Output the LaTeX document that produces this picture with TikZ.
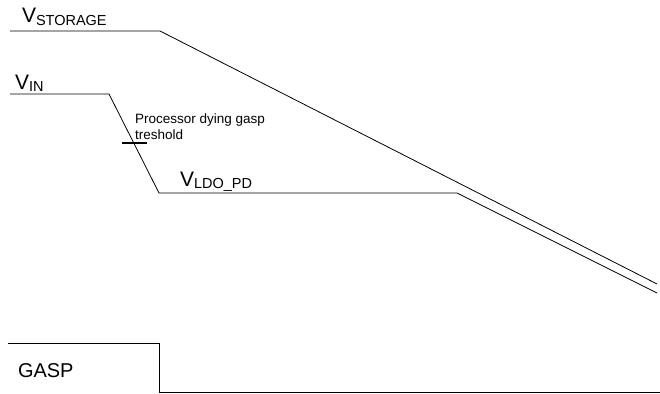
\documentclass[tikz,border=0pt]{standalone}
\usepackage{fontspec}
\setmainfont{Liberation Sans}
\newcommand{\vsub}[1]{{\fontsize{21}{21}\selectfont V}\raisebox{-2.5pt}{\fontsize{14.5}{14.5}\selectfont #1}}
\begin{document}
\begin{tikzpicture}[x=1pt,y=-1pt,
  wave/.style={line width=0.8pt,black},
  lbl/.style={anchor=base west,inner sep=0pt,outer sep=0pt},
  small/.style={lbl,font=\fontsize{13.5}{16}\selectfont,align=left}]
\useasboundingbox (0,0) rectangle (660,393);
% coordinates
\coordinate (s0) at (10,31);
\coordinate (s1) at (160,31);
\coordinate (s2) at (657,284);
\coordinate (i0) at (10,94);
\coordinate (i1) at (109,94);
\coordinate (i2) at (159,193);
\coordinate (i3) at (457,193);
\coordinate (i4) at (657,293);
\coordinate (t0) at (122,143);
\coordinate (t1) at (147,143);
\coordinate (g0) at (8,343);
\coordinate (g1) at (159,343);
\coordinate (g2) at (159,392);
\coordinate (g3) at (660,392);
% waves
\draw[wave] (s0) -- (s1) -- (s2);
\draw[wave] (i0) -- (i1) -- (i2) -- (i3) -- (i4);
\draw[line width=1.2pt] (t0) -- (t1);
\draw[wave] (g0) -- (g1) -- (g2) -- (g3);
% labels
\node[lbl] (lstor) at (22,23) {\vsub{STORAGE}};
\node[lbl] (lin) at (15,89) {\vsub{IN}};
\node[lbl] (lldo) at (180,186) {\vsub{LDO\_PD}};
\node[lbl,font=\fontsize{20}{20}\selectfont] (lgasp) at (18,377) {GASP};
\node[small] (lproc) at (135,123) {Processor dying gasp};
\node[small] (ltre) at (135,139.5) {treshold};
\end{tikzpicture}
\end{document}
